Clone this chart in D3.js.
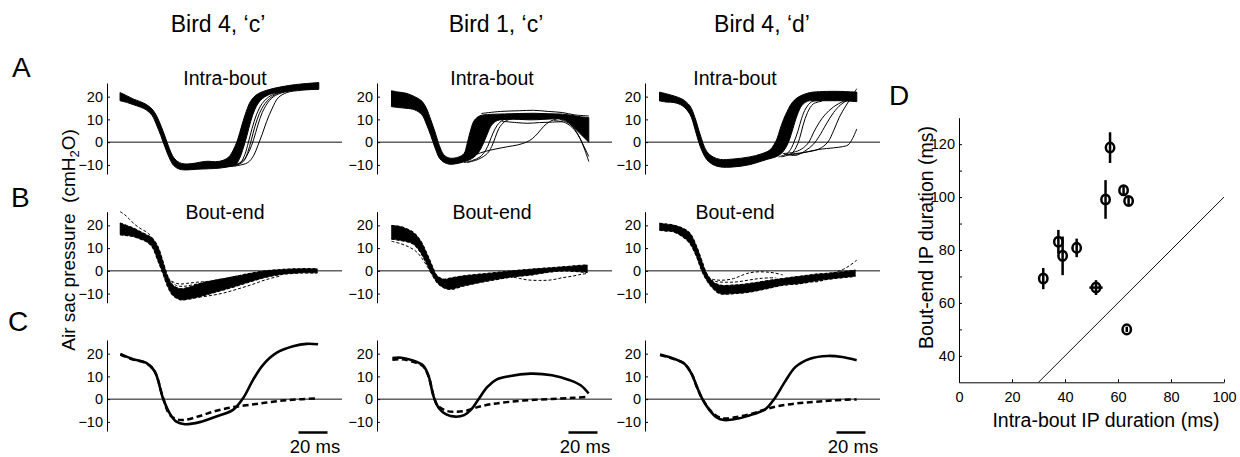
<!DOCTYPE html>
<html><head><meta charset="utf-8">
<script src="https://cdn.jsdelivr.net/npm/d3@7"></script>
<style>
body{margin:0;background:#fff}
svg{display:block}
text{font-family:"Liberation Sans",Arial,Helvetica,sans-serif;fill:#000}
</style>
</head><body>
<svg id="chart" width="1240" height="457"></svg>
<script>
// ---------------- DATA ----------------
const birdTitles = ["Bird 4, \u2018c\u2019", "Bird 1, \u2018c\u2019", "Bird 4, \u2018d\u2019"];
const rowTitles = ["Intra-bout", "Bout-end", ""];
const panelLetters = ["A", "B", "C", "D"];
const pressureTicks = [-10, 0, 10, 20];
const pressureDomain = [-14, 26];
const timeDomain = [0, 162];          // ms
const scaleBarMs = [132, 152];        // 20 ms scale bar
const scaleBarLabel = "20 ms";
const yLabelMain = "Air sac pressure  (cmH";
const yLabelSub = "2";
const yLabelEnd = "O)";

// Row A: intra-bout bundles (envelope of the dense bundle) + separate traces
const a1Upper = [[9,21.8],[14,20.3],[18,19],[23,17.8],[27,16.6],[31,14.6],[34,11.8],[37,7.5],[40,2.5],[43,-2.8],[46,-6.8],[50,-9],[55,-9.6],[61,-9.2],[66,-8.6],[70,-8.4],[75,-8.6],[80,-8],[84,-6.5],[87,-3.5],[90,1],[93,7.5],[96,13.5],[99,18],[103,20.8],[110,22.8],[120,24.3],[130,25.3],[140,25.9],[146,26.2]];
const a1Lower = [[9,18.2],[14,17.4],[18,16.5],[23,15.4],[27,14.2],[31,11.8],[34,7.8],[37,3],[40,-2.2],[43,-7],[46,-10.3],[50,-11.9],[55,-12.2],[62,-11.9],[70,-11.7],[78,-11.4],[84,-10.7],[89,-9.6],[91.5,-7],[94,-2.5],[96.5,3],[99,9],[102,14.5],[106,18.5],[112,21],[122,22.3],[132,23],[146,23.3]];
const a1Traces = [
  [[86,-10.5],[92,-9],[95,-5.5],[97.5,0],[100,6],[103,12],[107,17],[113,20.5],[122,22.5]],
  [[88,-10.5],[94,-8.5],[97,-4.5],[99.5,1],[102,7],[105,12.5],[109,17],[116,21],[126,22.8]],
  [[80,-11],[90,-10.3],[97,-9],[101,-6],[104,-1.5],[107,3.5],[110,9],[114,15],[118,19.5],[124,21.8],[134,22.8],[146,23.3]],
  [[80,-10.8],[88,-10],[94,-8],[98,-4],[101,1],[104,7.5],[107,13],[111,17.5],[116,20.5],[126,22.5],[146,23.8]]
];

const a2Upper = [[10,22.6],[15,22],[20,21.5],[26,20],[31,18],[34,15],[37,10],[40,4.5],[43,-1.5],[46,-5.5],[50,-7],[56,-6.6],[60,-5],[62,-1],[64,4],[67,9.5],[71,11.6],[78,12.2],[88,12.4],[98,12.6],[108,12.7],[118,12.5],[128,12.3],[134,11.8],[140,11.2],[146,10.8]];
const a2Lower = [[10,15.6],[15,15.2],[20,14.9],[26,14.2],[31,12],[34,8],[37,3],[40,-2.5],[43,-7],[46,-8.8],[50,-9.7],[56,-9.3],[62,-8.2],[66,-7],[70,-4.5],[73,-1],[76,3.5],[79,7.5],[83,9.5],[90,10],[98,10],[106,9.8],[114,10],[120,10.2],[126,10.2],[130,9.5],[134,7.5],[138,5],[142,2.5],[146,0]];
const a2Traces = [
  [[60,-9],[66,-8],[71,-6.5],[75,-3.5],[77.5,0],[80,4],[83,7.5],[87,9.8],[93,10.8],[100,11]],
  [[62,-9],[70,-7.5],[76,-5],[79,-2],[81.5,2],[84,6],[88,9],[94,10.5],[100,10.5]],
  [[72,12.6],[85,13.5],[98,13.8],[108,14],[118,13.5],[128,13],[136,12],[146,11.5]],
  [[86,9.2],[96,8.6],[104,8.3],[112,8.6],[120,8.8],[128,9]],
  [[50,-9.5],[56,-9],[62,-7.5],[68,-5.5],[75,-4],[82,-3],[90,-2],[97,-1.2],[103,0],[107,1.5],[111,4],[115,7],[119,9],[125,10.5]],
  [[122,9.5],[130,8.5],[136,5.5],[140,1.5],[143,-3],[146,-8.5]],
  [[126,10],[133,8],[138,4],[142,-1],[146,-6.3]]
];

const a3Upper = [[10,22],[15,21.2],[20,20.3],[26,18.8],[31,15.9],[34.5,10.7],[38,3.4],[42.5,-4],[47,-6.5],[52,-7.6],[61,-7.4],[72,-6.5],[80,-5.2],[86,-3.5],[89,-1],[91,1.5],[93,5.5],[95.5,10],[98,13.5],[100,16],[103,18.5],[107,20.3],[112,21.5],[116,22],[125,22.3],[135,22.3],[146,22]];
const a3Lower = [[10,18.1],[15,17.6],[20,17.4],[26,15.9],[31,12.2],[34.5,5.6],[38,-1.8],[42.5,-7.6],[47,-9.9],[52,-10.9],[61,-10.9],[72,-9.9],[84,-7.6],[90,-6.5],[94,-5],[97,-2.5],[99.5,1],[102,6],[105,12],[108,16],[112,18],[119,18.2],[125,18.2],[135,18.2],[141,18],[146,17.8]];
const a3Traces = [
  [[92,-6.5],[98,-5],[101,-2.5],[103,0.5],[105.5,5],[108,10.5],[111,15],[115,17.8],[121,18.3]],
  [[94,-6.5],[101,-5],[104,-2.5],[106.5,1.5],[109,7.5],[112,13],[116,16.8],[122,18]],
  [[95,-5],[102,-4.5],[108,-3],[113,0],[116,4],[120,8.5],[124,12],[130,15.5],[137,18],[143,19],[146,19.5]],
  [[100,-5.2],[110,-4.5],[120,-3],[126,0],[130,5],[134,11],[138,15.5],[142,19.5],[146,23.5]],
  [[96,-5.5],[104,-5.3],[112,-4.2],[120,-3.2],[130,-2.5],[136,-2],[140,-1.2],[143,1.5],[146,5.8]],
  [[98,-5.5],[104,-5.8],[110,-4],[116,-1],[120,2.5],[125,8],[130,13],[135,16.5],[140,18.5],[146,19.5]]
];

// Row B: bout-end bundles (dashed traces)
const b1Upper = [[9,21],[14,19.8],[18,18.8],[23,17.2],[27,15.9],[31,14.4],[35,10.7],[38.6,4],[42,-2.7],[45.5,-6.4],[51,-7.9],[57,-7.1],[64,-5.6],[75,-4.1],[87,-2.7],[98,-1.2],[110,0],[121,0.6],[133,0.9],[145,0.9]];
const b1Lower = [[9,15.9],[14,15.5],[18,15.1],[23,14],[27,12.9],[31,10.7],[35,4.7],[38.6,-1.2],[42,-7.1],[45.5,-10.8],[51,-12.7],[57,-12.3],[64,-11.3],[75,-9.3],[87,-7.1],[98,-4.9],[110,-2.7],[121,-1.5],[133,-0.9],[145,-0.9]];
const b1Traces = [
  [[9,26],[12,24.8],[15,23],[19,20.5],[24,18.2],[28,16.8],[32,13.5]],
  [[42,-3],[46,-5],[50,-5.8],[55,-5.5],[62,-5],[70,-4.6],[80,-3.5],[90,-2.2]],
  [[44,-4.5],[48,-6.5],[53,-6.8],[60,-6],[70,-5],[80,-4]],
  [[60,-11.8],[70,-11],[80,-9.8],[90,-8],[100,-6],[110,-3.8],[120,-2.2]]
];

const b2Upper = [[10,19.9],[14,19.7],[18,19.1],[25,16.9],[30,13.2],[34.5,7.4],[38,2.2],[41.4,-2.2],[46,-3.7],[50.6,-3.2],[60,-2.2],[71,-1.5],[83,-0.7],[94,0],[106,0.7],[117,1.2],[129,1.8],[145,2.6]];
const b2Lower = [[10,14],[14,13.6],[18,13.2],[25,11.8],[30,8.1],[34.5,2.9],[38,-1.5],[41.4,-5.1],[46,-7.4],[50.6,-8.1],[60,-6.6],[71,-5.1],[83,-3.7],[94,-2.6],[106,-1.8],[117,-0.7],[129,0],[145,-0.7]];
const b2Traces = [
  [[10,13],[16,12],[22,10.5],[27,8.5],[31,5.5],[35,1.5],[38,-2]],
  [[84,-2.2],[92,-2.6],[98,-3.3],[104,-4],[112,-4.2],[120,-4],[128,-3],[135,-2.3],[141,-1.5],[145,-1.2]]
];

const b3Upper = [[10,20.9],[15,20.5],[19.5,20.1],[26,18.7],[31,16.5],[35.6,10.6],[39,4.7],[42.5,-1.2],[47,-4.9],[51.7,-6.3],[61,-6.3],[72,-5.6],[84,-4.4],[95,-3.4],[107,-2.4],[118,-1.5],[130,-0.9],[145,0.3]];
const b3Lower = [[10,17.9],[15,17.5],[19.5,17.2],[26,15],[31,12],[35.6,6.2],[39,0.3],[42.5,-4.1],[47,-7.8],[51.7,-10],[61,-10],[72,-9.3],[84,-7.8],[95,-6.3],[107,-5.6],[118,-4.4],[130,-3.4],[145,-2.4]];
const b3Traces = [
  [[43,-3],[47,-3.8],[51,-4.1],[56,-4],[61,-3.4],[66,-2.2],[70,-1.2],[76,-0.5],[83,-0.5],[89,-0.9],[95,-1.8]],
  [[45,-4],[50,-4.8],[57,-5],[64,-4.8],[72,-4],[80,-3.3],[90,-3]],
  [[126,-1.5],[132,-0.5],[137,0.8],[141,2.3],[146,4.7]],
  [[104,-3],[110,-4],[116,-4.9],[121,-4.5],[127,-3.2]]
];

// Row C: averages (solid = intra-bout, dashed = bout-end)
const c1Intra = [[9.2,19.9],[17.9,17.6],[27.1,15.9],[32.9,12.2],[38.6,0.4],[43.2,-6.2],[47.8,-9.9],[53.6,-11],[63.9,-10.1],[75.4,-7.6],[86.9,-4.7],[93.8,0.4],[100.7,8.5],[107.6,15.1],[116.8,20.3],[128.3,23.2],[137.5,24.3],[145.5,24.1]];
const c1End = [[9.2,19.6],[17.9,17.4],[27.1,15.8],[32.9,12.1],[38.6,0.6],[43.2,-6.9],[47.8,-8.8],[53.6,-9.1],[63.9,-7.4],[75.4,-5.1],[86.9,-3.5],[98.4,-2.5],[109.9,-1.5],[121.4,-0.6],[132.9,0],[145.5,0.3]];
const c2Intra = [[10.6,18.1],[16.8,18.2],[24.2,17.1],[31.6,14.9],[35.4,10.5],[39.1,1],[42.8,-4.1],[47.7,-6.7],[53.9,-7.7],[60.1,-7],[65,-4.5],[70,0],[76.1,5.4],[82.3,8.6],[91,10.1],[105.8,11.2],[120.6,10.5],[133,8.3],[140.4,6.1],[145.9,2.5]];
const c2End = [[10.6,17.3],[16.8,17.5],[24.2,16.5],[31.6,14.5],[35.4,10.2],[39.1,1.2],[41.5,-2.6],[47.7,-5.1],[53.9,-5.5],[61.3,-5.1],[68.7,-3.6],[78.6,-2.2],[91,-1.2],[105.8,-0.4],[120.6,0.1],[135.5,0.6],[145.9,1]];
const c3Intra = [[10.4,19.6],[19.8,17.8],[27.2,15.6],[32.1,11.2],[35.8,5.4],[39.6,0],[44.5,-4.8],[49.4,-8],[54.4,-9.2],[64.3,-8.5],[74.2,-6.7],[82.8,-4.5],[89,0],[96.4,7.6],[103.8,14.2],[113.7,17.8],[126.1,19],[136,18.5],[145.9,17.1]];
const c3End = [[10.4,19.4],[19.8,17.6],[27.2,15.5],[32.1,11.1],[35.8,5.3],[39.6,0],[44.5,-4.6],[49.4,-7.4],[54.4,-8.5],[64.3,-7.7],[74.2,-6.3],[82.8,-4.5],[91.5,-3.1],[103.8,-1.9],[116.2,-1.2],[128.6,-0.6],[145.9,-0.1]];

// Panel D: IP durations (ms)
const dIntraBout = [31.8, 37.5, 39.1, 44.4, 51.7, 55.3, 57.0, 62.1, 64.0, 63.3];
const dBoutEnd   = [69.2, 83.1, 77.8, 80.8, 65.8, 99.1, 118.7, 102.6, 98.5, 50.0];
const dIntraErr  = [0, 0, 0, 0, 2.5, 0, 0, 0, 0, 0];
const dBoutEndErr= [4.0, 4.5, 7.3, 3.5, 2.8, 7.3, 5.8, 1.7, 1.5, 1.0];
const dXDomain = [0, 100];
const dYDomain = [30, 130];
const dXTicks = [0, 20, 40, 60, 80, 100];
const dYTicks = [40, 50, 60, 70, 80, 90, 100, 110, 120];
const dYLabelled = [40, 60, 80, 100, 120];
const dIdentity = [[30, 30], [100, 100]];
const dXLabel = "Intra-bout IP duration (ms)";
const dYLabel = "Bout-end IP duration (ms)";

// ---------------- DRAWING ----------------
const svg = d3.select("#chart");
const FONT = '"Liberation Sans",Arial,Helvetica,sans-serif';
const colX = [107, 377, 645];
const rowY = [83, 211.7, 340];
const panelW = 235, panelH = 91;

const bands = [
  [[a1Upper, a1Lower, a1Traces], [a2Upper, a2Lower, a2Traces], [a3Upper, a3Lower, a3Traces]],
  [[b1Upper, b1Lower, b1Traces], [b2Upper, b2Lower, b2Traces], [b3Upper, b3Lower, b3Traces]]
];
const means = [[c1Intra, c1End], [c2Intra, c2End], [c3Intra, c3End]];
const titleX = [225, 492, 735];
const rowTitleY = [85, 219];

function styleAxis(g, size) {
  g.attr("font-family", FONT).attr("font-size", size);
  g.select(".domain").attr("stroke", "#000").attr("stroke-width", 1);
  g.selectAll(".tick line").attr("stroke", "#000");
  g.selectAll(".tick text").attr("fill", "#000");
}

for (let row = 0; row < 3; row++) {
  for (let col = 0; col < 3; col++) {
    const xs = d3.scaleLinear().domain(timeDomain).range([colX[col], colX[col] + panelW]);
    const ys = d3.scaleLinear().domain(pressureDomain).range([rowY[row] + panelH, rowY[row]]);
    const line = d3.line().x(d => xs(d[0])).y(d => ys(d[1])).curve(d3.curveCatmullRom.alpha(0.5));
    const g = svg.append("g");

    // zero line
    g.append("line")
      .attr("x1", xs(timeDomain[0])).attr("x2", xs(timeDomain[1]))
      .attr("y1", ys(0)).attr("y2", ys(0))
      .attr("stroke", "#111").attr("stroke-width", 1);

    if (row < 2) {
      const [up, lo, traces] = bands[row][col];
      const d = line(up) + line(lo.slice().reverse()).replace(/^M/, "L") + "Z";
      g.append("path").attr("d", d).attr("fill", "#000")
        .attr("stroke", "#000").attr("stroke-width", row === 0 ? 1 : 0.6);
      if (row === 1) {
        [up, lo].forEach(edge => g.append("path").attr("d", line(edge))
          .attr("fill", "none").attr("stroke", "#000").attr("stroke-width", 1.3)
          .attr("stroke-dasharray", "3,2"));
      }
      traces.forEach(tr => g.append("path").attr("d", line(tr))
        .attr("fill", "none").attr("stroke", "#000").attr("stroke-width", 1)
        .attr("stroke-dasharray", row === 1 ? "3,2" : null));
      g.append("text").attr("x", titleX[col]).attr("y", rowTitleY[row])
        .attr("text-anchor", "middle").attr("font-size", 19.5).text(rowTitles[row]);
    } else {
      const [solid, dashed] = means[col];
      g.append("path").attr("d", line(dashed)).attr("fill", "none")
        .attr("stroke", "#000").attr("stroke-width", 2.5).attr("stroke-dasharray", "6,3.5");
      g.append("path").attr("d", line(solid)).attr("fill", "none")
        .attr("stroke", "#000").attr("stroke-width", 2.6);
      // scale bar
      g.append("line").attr("x1", xs(scaleBarMs[0])).attr("x2", xs(scaleBarMs[1]))
        .attr("y1", 432.5).attr("y2", 432.5).attr("stroke", "#000").attr("stroke-width", 2.5);
      g.append("text").attr("x", (xs(scaleBarMs[0]) + xs(scaleBarMs[1])) / 2 + 2).attr("y", 453)
        .attr("text-anchor", "middle").attr("font-size", 18.5).text(scaleBarLabel);
    }

    const ax = g.append("g").attr("transform", `translate(${colX[col]},0)`)
      .call(d3.axisLeft(ys).tickValues(pressureTicks).tickSize(-3).tickSizeOuter(0).tickPadding(4));
    styleAxis(ax, 14.5);
  }
}

// column titles
birdTitles.forEach((t, i) => {
  svg.append("text").attr("x", [218, 496, 762][i]).attr("y", 32)
    .attr("text-anchor", "middle").attr("font-size", 23).text(t);
});

// panel letters
const letterPos = [[12, 77], [11, 207], [8, 331], [889, 105]];
panelLetters.forEach((l, i) => {
  svg.append("text").attr("x", letterPos[i][0]).attr("y", letterPos[i][1])
    .attr("font-size", 28).text(l);
});

// shared y label
const yl = svg.append("text").attr("transform", "translate(75,240) rotate(-90)")
  .attr("text-anchor", "middle").attr("font-size", 19).style("white-space", "pre");
yl.append("tspan").text(yLabelMain);
yl.append("tspan").attr("font-size", 13).attr("dy", 4).text(yLabelSub);
yl.append("tspan").attr("dy", -4).text(yLabelEnd);

// ---------- Panel D ----------
const dx = d3.scaleLinear().domain(dXDomain).range([959, 1224]);
const dy = d3.scaleLinear().domain(dYDomain).range([382.3, 117.7]);
const gD = svg.append("g");

const xAx = gD.append("g").attr("transform", "translate(0,382.3)")
  .call(d3.axisBottom(dx).tickValues(dXTicks).tickSize(-3).tickSizeOuter(0).tickPadding(9));
styleAxis(xAx, 14.5);
const yAx = gD.append("g").attr("transform", "translate(959,0)")
  .call(d3.axisLeft(dy).tickValues(dYTicks).tickSize(-3).tickSizeOuter(0).tickPadding(4)
    .tickFormat(v => dYLabelled.includes(v) ? v : ""));
styleAxis(yAx, 14.5);

gD.append("path").attr("d", d3.line().x(d => dx(d[0])).y(d => dy(d[1]))(dIdentity))
  .attr("stroke", "#111").attr("stroke-width", 1).attr("fill", "none");

dIntraBout.forEach((xv, i) => {
  const yv = dBoutEnd[i];
  gD.append("line").attr("x1", dx(xv)).attr("x2", dx(xv))
    .attr("y1", dy(yv - dBoutEndErr[i])).attr("y2", dy(yv + dBoutEndErr[i]))
    .attr("stroke", "#000").attr("stroke-width", 2.5);
  if (dIntraErr[i] > 0) {
    gD.append("line").attr("x1", dx(xv - dIntraErr[i])).attr("x2", dx(xv + dIntraErr[i]))
      .attr("y1", dy(yv)).attr("y2", dy(yv))
      .attr("stroke", "#000").attr("stroke-width", 2.5);
  }
  gD.append("ellipse").attr("cx", dx(xv)).attr("cy", dy(yv)).attr("rx", 4.2).attr("ry", 4.8)
    .attr("fill", "none").attr("stroke", "#000").attr("stroke-width", 2.5);
});

gD.append("text").attr("x", 1106).attr("y", 427).attr("text-anchor", "middle")
  .attr("font-size", 19.5).text(dXLabel);
gD.append("text").attr("transform", "translate(933,237.5) rotate(-90)")
  .attr("text-anchor", "middle").attr("font-size", 19.5).text(dYLabel);
</script>
</body></html>
